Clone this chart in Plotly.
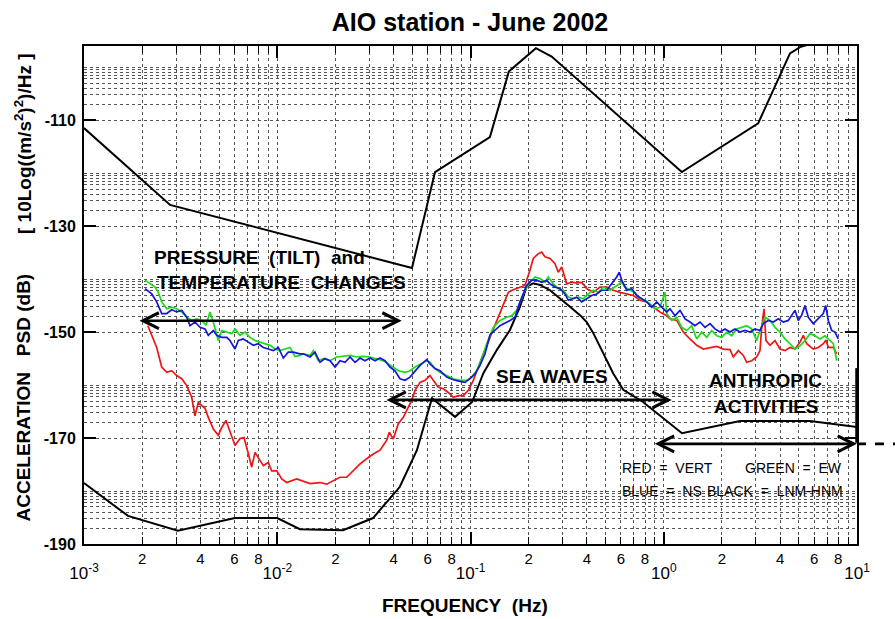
import plotly.graph_objects as go
import numpy as np

# ---------------- data ----------------
hnm_freq = [0.001, 0.00279, 0.0498, 0.0655, 0.126, 0.158, 0.218, 0.263, 1.24, 3.08, 4.5, 5.07, 10.0]
hnm_db = [-111.5, -126.0, -137.9, -119.8, -113.2, -100.8, -96.4, -98.0, -119.8, -110.6, -97.4, -96.2, -93.0]

lnm_freq = [0.001, 0.00169, 0.00306, 0.00604, 0.01, 0.0131, 0.0219, 0.0313, 0.0431, 0.0528,
            0.0632, 0.0832, 0.102, 0.1164, 0.1367, 0.16, 0.1804, 0.1953, 0.2113, 0.229,
            0.2578, 0.2905, 0.3273, 0.3686, 0.3993, 0.432, 0.4866, 0.548, 0.6175, 0.781,
            1.243, 2.48, 5.71, 10.0]
lnm_db = [-178.5, -184.7, -187.5, -185.1, -185.1, -187.2, -187.4, -185.1, -179.2, -172.3,
          -162.5, -166.0, -163.2, -157.8, -153.4, -149.6, -145.2, -141.4, -140.8, -141.1,
          -142.1, -143.6, -145.2, -146.8, -148.1, -150.2, -154.0, -157.8, -160.9, -163.2,
          -169.1, -166.8, -166.8, -167.9]

vert_freq = [0.00214, 0.002378, 0.002524, 0.002679, 0.002844, 0.003018, 0.003203, 0.0034, 0.003609, 0.003752,
             0.003903, 0.004065, 0.004228, 0.004398, 0.004668, 0.004955, 0.005161, 0.005431, 0.005694, 0.006046,
             0.006416, 0.006729, 0.007083, 0.007376, 0.007672, 0.00798, 0.00847, 0.00899, 0.009361, 0.009935,
             0.01055, 0.01119, 0.01188, 0.01261, 0.01477, 0.01664, 0.01803, 0.0195, 0.02112, 0.02288,
             0.02475, 0.02681, 0.02903, 0.03141, 0.03402, 0.03686, 0.03801, 0.03986, 0.04231, 0.04491,
             0.04677, 0.04963, 0.05163, 0.05481, 0.05817, 0.06171, 0.06419, 0.06814, 0.07234, 0.07676,
             0.08147, 0.08648, 0.09178, 0.09741, 0.1034, 0.1077, 0.1165, 0.1262, 0.1367, 0.1478,
             0.1569, 0.1665, 0.1804, 0.1914, 0.2032, 0.2113, 0.2243, 0.2336, 0.2429, 0.2579,
             0.2737, 0.2847, 0.2965, 0.3147, 0.334, 0.3545, 0.3763, 0.3994, 0.4319, 0.4678,
             0.5069, 0.5482, 0.5939, 0.6433, 0.6957, 0.7537, 0.8164, 0.883, 0.9563, 1.036,
             1.077, 1.167, 1.262, 1.367, 1.481, 1.602, 1.735, 1.879, 2.033, 2.202,
             2.291, 2.431, 2.58, 2.687, 2.852, 3.027, 3.148, 3.213, 3.302, 3.382,
             3.547, 3.764, 3.995, 4.24, 4.501, 4.777, 5.07, 5.274, 5.492, 5.941,
             6.306, 6.692, 6.911, 7.103, 7.542, 7.852]
vert_db = [-148.8, -152.9, -156.6, -157.6, -157.3, -158.2, -158.8, -160.1, -162.3, -165.8,
           -163.3, -163.9, -164.4, -166.1, -168.3, -169.5, -168.0, -166.7, -168.6, -171.4,
           -170.1, -169.9, -172.9, -175.5, -172.7, -173.6, -175.2, -174.6, -176.2, -176.2,
           -177.7, -178.4, -178.0, -177.7, -178.6, -178.4, -178.7, -178.0, -177.4, -177.4,
           -176.2, -174.9, -173.9, -173.0, -172.3, -170.4, -168.9, -170.2, -167.3, -166.1,
           -164.8, -162.9, -161.0, -159.5, -159.1, -158.2, -159.1, -160.4, -160.7, -161.4,
           -162.3, -162.0, -162.0, -161.0, -159.1, -157.3, -154.1, -151.0, -147.8, -144.7,
           -142.5, -142.0, -141.5, -141.2, -138.3, -136.1, -135.2, -134.9, -135.8, -136.1,
           -137.1, -138.7, -137.7, -140.9, -140.6, -140.7, -140.6, -141.8, -142.5, -141.5,
           -141.5, -142.1, -142.5, -142.8, -143.1, -144.0, -144.3, -145.3, -146.2, -146.9,
           -147.5, -147.8, -150.0, -151.3, -152.5, -153.2, -152.9, -152.7, -153.2, -153.3,
           -154.7, -153.5, -154.4, -155.7, -155.4, -154.7, -153.5, -149.1, -145.6, -151.6,
           -152.5, -151.6, -153.2, -153.5, -152.9, -153.2, -151.9, -150.6, -152.2, -153.2,
           -152.9, -152.2, -151.5, -152.9, -152.9, -154.1]

ew_freq = [0.002069, 0.002195, 0.00233, 0.002424, 0.002524, 0.002679, 0.002844, 0.003018, 0.003203, 0.0034,
           0.003609, 0.00383, 0.004065, 0.004279, 0.004487, 0.004668, 0.004955, 0.005161, 0.005476, 0.005812,
           0.006046, 0.006416, 0.00681, 0.007228, 0.007672, 0.008141, 0.008641, 0.009173, 0.009736, 0.01033,
           0.01097, 0.01164, 0.01235, 0.01311, 0.01364, 0.01477, 0.01537, 0.01631, 0.01731, 0.01875,
           0.02031, 0.02197, 0.0238, 0.02577, 0.02788, 0.0302, 0.03271, 0.03538, 0.03754, 0.03986,
           0.04231, 0.04583, 0.04863, 0.05163, 0.05593, 0.05934, 0.06171, 0.06552, 0.06953, 0.07532,
           0.08147, 0.08826, 0.09559, 0.1014, 0.1077, 0.1143, 0.1213, 0.1312, 0.1421, 0.1539,
           0.1634, 0.1734, 0.1804, 0.1914, 0.2032, 0.2157, 0.2288, 0.2429, 0.2527, 0.2682,
           0.2847, 0.3021, 0.3207, 0.3404, 0.3613, 0.3834, 0.407, 0.4319, 0.4584, 0.4866,
           0.5272, 0.5711, 0.6058, 0.6302, 0.669, 0.7098, 0.7537, 0.7998, 0.8489, 0.901,
           0.9563, 1.015, 1.036, 1.1, 1.167, 1.238, 1.315, 1.395, 1.481, 1.572,
           1.669, 1.771, 1.879, 1.995, 2.117, 2.247, 2.385, 2.532, 2.687, 2.852,
           3.027, 3.213, 3.341, 3.547, 3.764, 3.995, 4.24, 4.501, 4.777, 5.07,
           5.382, 5.713, 6.064, 6.434, 6.829, 7.25, 7.542, 7.852]
ew_db = [-140.2, -140.9, -141.5, -142.5, -144.3, -145.6, -145.3, -145.6, -146.2, -147.2,
         -147.8, -147.5, -147.8, -148.7, -146.2, -148.1, -151.6, -149.7, -150.0, -150.3,
         -149.4, -150.6, -150.0, -151.0, -151.6, -151.9, -152.2, -152.5, -153.2, -153.5,
         -153.2, -152.9, -154.6, -154.4, -154.1, -154.4, -153.5, -155.4, -155.0, -155.4,
         -154.7, -154.6, -154.4, -154.7, -154.6, -154.7, -155.0, -155.4, -156.0, -156.6,
         -157.3, -157.6, -157.3, -156.6, -156.0, -155.4, -155.7, -156.9, -157.6, -158.2,
         -158.8, -159.1, -159.1, -158.5, -157.3, -155.0, -152.2, -149.1, -147.8, -147.2,
         -146.9, -145.9, -144.3, -142.1, -140.6, -139.6, -139.9, -140.6, -139.6, -140.9,
         -141.8, -142.1, -143.4, -143.7, -143.4, -143.7, -142.8, -142.1, -142.5, -141.5,
         -142.1, -141.2, -140.6, -141.5, -142.1, -142.5, -143.7, -144.0, -144.7, -145.6,
         -145.3, -142.5, -146.5, -147.8, -147.2, -149.1, -149.7, -148.8, -151.3, -150.0,
         -151.0, -149.7, -150.7, -151.0, -150.0, -150.7, -149.4, -149.1, -148.8, -149.4,
         -151.6, -148.8, -147.2, -147.8, -149.1, -150.0, -151.3, -152.2, -153.2, -152.6,
         -151.6, -150.3, -150.7, -151.3, -150.7, -151.6, -152.2, -155.4]

ns_freq = [0.002069, 0.00224, 0.002378, 0.002524, 0.002679, 0.002844, 0.003018, 0.003203, 0.0034, 0.003537,
           0.003752, 0.003984, 0.004228, 0.004398, 0.004668, 0.004861, 0.005161, 0.005476, 0.005694, 0.006046,
           0.006288, 0.006674, 0.007083, 0.007518, 0.00798, 0.00847, 0.00899, 0.009541, 0.01013, 0.01075,
           0.0114, 0.0121, 0.01311, 0.01364, 0.01477, 0.01568, 0.01664, 0.01766, 0.01875, 0.0199,
           0.02112, 0.02242, 0.0238, 0.02526, 0.02681, 0.02845, 0.0302, 0.03206, 0.03402, 0.03611,
           0.03832, 0.04067, 0.04317, 0.04583, 0.04863, 0.05163, 0.05481, 0.05934, 0.06171, 0.06552,
           0.06953, 0.07532, 0.08147, 0.08826, 0.09365, 0.0994, 0.1055, 0.112, 0.1189, 0.1262,
           0.1421, 0.1601, 0.1699, 0.1804, 0.1953, 0.2073, 0.22, 0.2336, 0.2479, 0.2579,
           0.2737, 0.2905, 0.3083, 0.3207, 0.334, 0.3545, 0.3763, 0.3994, 0.4239, 0.4499,
           0.4775, 0.5069, 0.538, 0.5711, 0.5888, 0.6058, 0.6433, 0.6826, 0.7244, 0.7689,
           0.8164, 0.8663, 0.9194, 0.9759, 1.036, 1.077, 1.144, 1.214, 1.289, 1.367,
           1.451, 1.54, 1.635, 1.735, 1.841, 1.954, 2.075, 2.202, 2.337, 2.48,
           2.633, 2.794, 2.966, 3.148, 3.274, 3.475, 3.689, 3.915, 4.155, 4.41,
           4.593, 4.777, 4.969, 5.174, 5.382, 5.598, 5.941, 6.306, 6.692, 6.887,
           7.103, 7.397, 7.694, 8.002]
ns_db = [-141.8, -142.8, -144.3, -146.5, -146.5, -145.8, -146.2, -145.9, -147.2, -148.8,
         -148.1, -149.1, -149.4, -150.6, -149.7, -150.6, -151.0, -151.0, -151.6, -153.2,
         -151.6, -151.3, -151.9, -152.5, -152.2, -152.9, -153.2, -153.5, -152.9, -154.9,
         -153.8, -153.8, -154.1, -154.1, -154.7, -153.8, -155.7, -155.0, -155.4, -156.6,
         -155.4, -155.7, -154.7, -155.7, -154.9, -155.4, -154.9, -155.4, -154.9, -155.4,
         -156.6, -157.3, -158.8, -159.1, -158.5, -157.3, -156.3, -155.2, -156.0, -156.9,
         -157.3, -158.5, -159.0, -159.3, -159.5, -158.8, -157.9, -156.3, -154.1, -150.5,
         -148.8, -147.8, -147.2, -144.3, -141.2, -140.2, -140.2, -140.6, -140.2, -140.9,
         -141.5, -141.8, -142.8, -144.0, -143.7, -143.4, -144.3, -143.7, -143.1, -142.8,
         -142.1, -142.1, -140.9, -139.6, -138.7, -140.2, -142.1, -141.8, -143.1, -143.7,
         -144.3, -145.3, -144.3, -145.3, -146.2, -145.6, -146.9, -145.9, -147.5, -148.1,
         -148.8, -148.1, -149.1, -148.4, -149.4, -150.0, -149.4, -150.0, -149.4, -150.0,
         -149.7, -150.0, -149.4, -149.7, -148.4, -147.8, -148.1, -147.5, -148.1, -147.8,
         -146.8, -145.9, -147.8, -146.8, -145.0, -147.2, -148.4, -147.5, -146.5, -145.0,
         -147.8, -149.7, -150.0, -151.3]

y_major = [-190, -170, -150, -130, -110]
y_labels = ["-190", "-170", "-150", "-130", "-110"]
x_decades = [0.001, 0.01, 0.1, 1, 10]
x_decade_labels = ["10<sup>-3</sup>", "10<sup>-2</sup>", "10<sup>-1</sup>", "10<sup>0</sup>", "10<sup>1</sup>"]
x_digit_labels = ["", "2", "", "4", "", "6", "", "8", ""]

# arrows: (f_left, f_right, level_db)
pressure_arrow = (0.001904, 0.04406, -147.85)
sea_arrow = (0.03610, 1.0995, -162.8)
anthropic_arrow = (0.8829, 10.0, -171.1)

# ---------------- layout helpers ----------------
W, H = 895, 619
L, R, T, B = 84, 38, 46, 75
PW, PH = W - L - R, H - T - B


def px(x):
    return (x - L) / PW


def py(y):
    return (H - B - y) / PH


GRID = "#555555"
SANS = "Liberation Sans, Arial, sans-serif"

fig = go.Figure()

line_specs = [
    (hnm_freq, hnm_db, "black", 2.0, "x2"),
    (lnm_freq, lnm_db, "black", 2.0, "x"),
    (vert_freq, vert_db, "#ee1515", 1.7, "x"),
    (ew_freq, ew_db, "#18dd18", 1.7, "x"),
    (ns_freq, ns_db, "#1515dd", 1.7, "x"),
]
for xs, ys, col, w, xa in line_specs:
    fig.add_trace(go.Scatter(x=xs, y=ys, mode="lines", xaxis=xa,
                             line=dict(color=col, width=w),
                             hoverinfo="skip", showlegend=False))

# grid positions
minor_y = [b + 10 * np.log10(k) for b in y_major for k in range(2, 11)]
minor_x_vals = [d * k for d in x_decades[:-1] for k in range(1, 10)]
minor_x_text = [x_digit_labels[k - 1] for d in x_decades[:-1] for k in range(1, 10)]

fig.update_layout(
    width=W, height=H,
    margin=dict(l=L, r=R, t=T, b=B),
    paper_bgcolor="white", plot_bgcolor="white",
    showlegend=False,
    xaxis=dict(type="log", range=[-3, 1], tickmode="array",
               tickvals=minor_x_vals, ticktext=minor_x_text,
               ticks="inside", ticklen=7, tickwidth=1.2, tickcolor="black",
               showline=True, linecolor="black", linewidth=2, mirror="ticks",
               showgrid=True, gridcolor=GRID, griddash="dot", gridwidth=1,
               zeroline=False, tickangle=0, ticklabelstandoff=0,
               tickfont=dict(family=SANS, size=15, color="black")),
    xaxis2=dict(type="log", range=[-3, 1], overlaying="x", anchor="y", side="bottom",
                tickmode="array", tickvals=x_decades, ticktext=x_decade_labels,
                ticks="inside", ticklen=12, tickwidth=2, tickcolor="black",
                showline=False, mirror="ticks", showgrid=True, gridcolor=GRID,
                griddash="dot", gridwidth=1, zeroline=False, tickangle=0,
                ticklabelstandoff=17,
                tickfont=dict(family=SANS, size=17, color="black")),
    yaxis=dict(range=[-190, -96], tickmode="array", tickvals=y_major,
               ticktext=["<b>%s</b>" % t for t in y_labels],
               ticks="inside", ticklen=12, tickwidth=2, tickcolor="black",
               showline=True, linecolor="black", linewidth=2, mirror="ticks",
               showgrid=True, gridcolor=GRID, griddash="dot", gridwidth=1,
               zeroline=False, ticklabelstandoff=3,
               tickfont=dict(family=SANS, size=16, color="black"),
               minor=dict(tickmode="array", tickvals=minor_y, ticks="",
                          showgrid=True, gridcolor=GRID, griddash="dot", gridwidth=1)),
    title=dict(text="<b>AIO station - June 2002</b>", x=470 / W, y=1 - 22 / H,
               xanchor="center", yanchor="middle",
               font=dict(family=SANS, size=25, color="black")),
)

ann = []


def text(t, x, y, xanchor="center", size=19, bold=True, angle=0):
    ann.append(dict(text=("<b>%s</b>" % t) if bold else t, x=px(x), y=py(y),
                    xref="paper", yref="paper", xanchor=xanchor, yanchor="middle",
                    showarrow=False, textangle=angle,
                    font=dict(family=SANS, size=size, color="black")))


NB = "\u00a0"
text("PRESSURE" + NB * 2 + "(TILT)" + NB * 2 + "and", 152, 257.5, "left")
text("TEMPERATURE" + NB * 2 + "CHANGES", 155, 282, "left")
text("SEA" + NB + "WAVES", 552, 376)
text("ANTHROPIC", 765.5, 381)
text("ACTIVITIES", 766.5, 406)
text("RED" + NB * 2 + "=" + NB * 2 + "VERT", 620, 468, "left", size=14, bold=False)
text("GREEN" + NB * 2 + "=" + NB * 2 + "EW", 844, 468, "right", size=14, bold=False)
text("BLUE" + NB * 2 + "=" + NB * 2 + "NS", 620, 491, "left", size=14, bold=False)
text("BLACK" + NB * 2 + "=" + NB * 2 + "LNM-HNM", 845, 491, "right", size=14, bold=False)
text("ACCELERATION" + NB * 3 + "PSD" + NB + "(dB)", 22.5, 398, size=19, angle=-90)
text("[" + NB + "10Log((m/s<sup>2</sup>)<sup>2</sup>)/Hz" + NB + "]", 22.5, 143.5, size=19, angle=-90)
text("FREQUENCY" + NB * 2 + "(Hz)", 464.5, 605.5, size=19)

for f0, f1, lev in [pressure_arrow, sea_arrow, anthropic_arrow]:
    ann.append(dict(x=np.log10(f1), y=lev, ax=np.log10(f0), ay=lev,
                    xref="x", yref="y", axref="x", ayref="y", text="",
                    showarrow=True, arrowhead=5, startarrowhead=5, arrowside="end+start",
                    arrowsize=1.2, startarrowsize=1.2, arrowwidth=2.6, arrowcolor="black",
                    standoff=0, startstandoff=0))

fig.update_layout(annotations=ann)

# dashed continuation outside the frame and thick frame segment
fig.add_shape(type="line", xref="paper", yref="y", x0=1.0, x1=(895 - L) / PW,
              y0=anthropic_arrow[2], y1=anthropic_arrow[2],
              line=dict(color="black", width=2.6, dash="dash"))
fig.add_shape(type="line", xref="paper", yref="y", x0=1.0, x1=1.0,
              y0=-156.8, y1=-170.9, line=dict(color="black", width=3.5))

fig.write_html("out.html")
